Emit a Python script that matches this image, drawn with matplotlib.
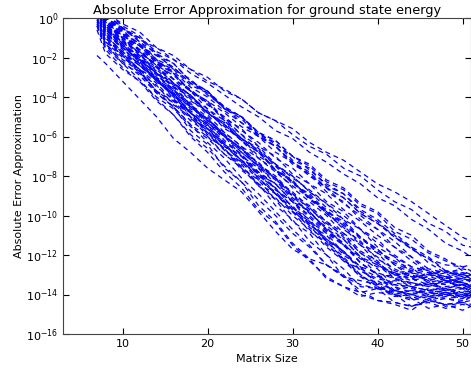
import numpy as np
import matplotlib
matplotlib.use('Agg')
import matplotlib.pyplot as plt
from matplotlib.ticker import NullLocator

# matrix sizes at which the error was sampled
matrix_size = [7, 8, 10, 12, 14, 16, 18, 20, 22, 24, 26, 28, 30, 32, 34, 36,
               38, 40, 42, 44, 46, 48, 50, 51]

# log10 of the absolute error, one list per run
run01 = [1.0, 0.0, -0.5, -1.1, -1.5, -2.1, -2.6, -3.2, -3.6, -4.1, -4.8, -5.2, -5.6, -6.3, -6.8, -7.2, -7.8, -8.4, -8.8, -9.3, -9.9, -10.5, -11.1, -11.3]
run02 = [1.4, 0.3, -0.3, -0.7, -1.5, -1.9, -2.6, -3.0, -3.7, -4.1, -4.8, -5.2, -5.9, -6.5, -6.9, -7.6, -8.0, -8.7, -9.3, -9.7, -10.4, -10.8, -11.5, -11.6]
run03 = [0.6, -0.5, -1.2, -1.7, -2.4, -2.9, -3.7, -4.2, -4.8, -5.5, -6.0, -6.8, -7.3, -7.9, -8.6, -9.1, -9.9, -10.4, -11.0, -11.7, -12.2, -12.8, -13.1, -13.3]
run04 = [1.1, 0.0, -0.6, -1.4, -1.9, -2.5, -3.3, -3.8, -4.5, -5.0, -5.8, -6.4, -7.0, -7.7, -8.4, -8.9, -9.7, -10.2, -10.9, -11.6, -12.1, -12.8, -13.1, -13.4]
run05 = [0.8, -0.4, -1.0, -1.8, -2.3, -3.1, -3.6, -4.4, -5.0, -5.7, -6.3, -7.1, -7.6, -8.4, -8.9, -9.7, -10.3, -11.0, -11.6, -12.3, -12.9, -13.3, -13.7, -13.5]
run06 = [0.3, -0.8, -1.5, -2.1, -2.8, -3.5, -4.0, -4.8, -5.4, -6.1, -6.7, -7.4, -8.1, -8.7, -9.4, -10.0, -10.7, -11.4, -12.0, -12.6, -12.8, -13.1, -12.9, -13.0]
run07 = [1.3, 0.2, -0.5, -1.2, -1.8, -2.6, -3.1, -3.9, -4.5, -5.3, -5.9, -6.5, -7.3, -8.0, -8.6, -9.4, -10.0, -10.7, -11.3, -12.1, -12.7, -13.3, -13.6, -13.9]
run08 = [0.5, -0.6, -1.4, -1.9, -2.8, -3.3, -4.2, -4.7, -5.6, -6.1, -7.0, -7.5, -8.4, -8.9, -9.8, -10.3, -11.2, -11.7, -12.5, -12.9, -13.4, -13.2, -13.4, -13.2]
run09 = [0.9, -0.1, -0.9, -1.4, -2.3, -2.8, -3.7, -4.2, -5.1, -5.6, -6.5, -7.0, -7.9, -8.4, -9.3, -9.8, -10.7, -11.2, -12.1, -12.6, -13.4, -13.7, -14.1, -13.9]
run10 = [0.2, -1.0, -1.8, -2.4, -3.1, -3.9, -4.7, -5.3, -6.0, -6.8, -7.5, -8.1, -8.9, -9.7, -10.3, -11.1, -11.9, -12.5, -13.2, -13.4, -13.6, -13.4, -13.5, -13.7]
run11 = [0.7, -0.4, -1.1, -1.9, -2.5, -3.3, -3.9, -4.8, -5.4, -6.2, -6.8, -7.7, -8.3, -9.1, -9.7, -10.5, -11.1, -11.9, -12.4, -12.8, -12.7, -12.9, -12.7, -12.8]
run12 = [1.2, 0.1, -0.7, -1.3, -2.2, -2.8, -3.7, -4.3, -5.1, -5.9, -6.5, -7.4, -8.0, -8.8, -9.6, -10.2, -11.1, -11.7, -12.5, -13.1, -13.8, -13.9, -14.0, -13.8]
run13 = [0.4, -0.7, -1.5, -2.1, -3.0, -3.6, -4.5, -5.1, -5.9, -6.7, -7.3, -8.2, -8.8, -9.6, -10.4, -11.0, -11.9, -12.4, -13.0, -13.3, -13.1, -13.3, -13.2, -13.0]
run14 = [0.1, -1.2, -2.0, -2.6, -3.5, -4.1, -5.0, -5.6, -6.4, -7.2, -7.8, -8.7, -9.3, -10.1, -10.9, -11.5, -12.4, -13.0, -13.8, -14.0, -14.3, -14.1, -14.2, -14.0]
run15 = [0.9, -0.2, -1.0, -1.6, -2.5, -3.3, -3.9, -4.8, -5.5, -6.2, -7.1, -7.7, -8.6, -9.3, -10.0, -10.9, -11.5, -12.4, -13.0, -13.5, -13.5, -13.7, -13.5, -13.6]
run16 = [0.2, -0.9, -1.7, -2.4, -3.2, -3.9, -4.8, -5.4, -6.3, -6.9, -7.8, -8.4, -9.3, -10.0, -10.8, -11.5, -12.2, -12.6, -12.9, -12.8, -13.0, -12.8, -12.9, -13.0]
run17 = [0.6, -0.5, -1.3, -2.1, -2.8, -3.7, -4.3, -5.3, -5.9, -6.8, -7.5, -8.4, -9.0, -9.9, -10.6, -11.5, -12.1, -13.0, -13.6, -13.9, -14.1, -13.9, -14.0, -14.2]
run18 = [1.5, 0.3, -0.5, -1.2, -2.1, -2.8, -3.7, -4.3, -5.2, -5.9, -6.8, -7.4, -8.3, -9.0, -9.9, -10.6, -11.5, -12.1, -12.9, -13.2, -13.5, -13.3, -13.4, -13.6]
run19 = [-0.3, -1.4, -2.2, -2.9, -3.8, -4.5, -5.4, -6.0, -6.9, -7.6, -8.5, -9.1, -10.0, -10.7, -11.6, -12.3, -13.1, -13.4, -13.8, -13.6, -13.8, -13.7, -13.5, -13.7]
run20 = [0.8, -0.3, -1.1, -1.8, -2.8, -3.4, -4.4, -5.0, -6.0, -6.6, -7.6, -8.2, -9.2, -9.8, -10.8, -11.4, -12.4, -13.0, -13.9, -14.1, -14.4, -14.2, -14.3, -14.1]
run21 = [0.0, -1.1, -1.9, -2.8, -3.4, -4.4, -5.0, -6.0, -6.6, -7.6, -8.2, -9.2, -9.8, -10.8, -11.4, -12.3, -12.7, -13.1, -13.0, -13.2, -12.9, -13.1, -13.2, -13.0]
run22 = [1.1, 0.0, -0.8, -1.7, -2.4, -3.3, -4.1, -4.9, -5.8, -6.5, -7.4, -8.1, -9.1, -9.8, -10.7, -11.4, -12.4, -13.0, -13.5, -13.7, -13.9, -13.8, -13.6, -13.8]
run23 = [0.5, -0.7, -1.5, -2.4, -3.1, -4.0, -4.8, -5.6, -6.5, -7.2, -8.1, -8.9, -9.7, -10.6, -11.3, -12.2, -13.1, -13.7, -14.4, -14.6, -14.3, -14.5, -14.4, -14.6]
run24 = [-0.4, -1.6, -2.5, -3.2, -4.2, -4.9, -5.9, -6.6, -7.5, -8.3, -9.2, -10.0, -10.9, -11.6, -12.5, -13.1, -13.3, -13.5, -13.3, -13.4, -13.6, -13.3, -13.4, -13.5]
run25 = [0.7, -0.5, -1.4, -2.1, -3.1, -3.8, -4.8, -5.5, -6.4, -7.2, -8.1, -8.9, -9.8, -10.5, -11.5, -12.2, -13.0, -13.6, -13.9, -13.8, -14.0, -13.9, -13.7, -13.9]
run26 = [1.0, -0.1, -1.0, -1.8, -2.7, -3.5, -4.4, -5.2, -6.2, -6.9, -7.9, -8.6, -9.6, -10.4, -11.3, -12.1, -13.0, -13.6, -14.1, -14.0, -14.2, -14.0, -14.1, -13.9]
run27 = [0.2, -1.0, -1.9, -2.7, -3.7, -4.5, -5.4, -6.3, -7.1, -8.1, -8.9, -9.8, -10.7, -11.5, -12.5, -13.1, -13.5, -13.7, -13.5, -13.6, -13.8, -13.6, -13.5, -13.7]
run28 = [0.8, -0.4, -1.3, -2.3, -3.0, -4.1, -4.8, -5.9, -6.6, -7.7, -8.4, -9.5, -10.2, -11.3, -12.0, -13.1, -13.8, -14.3, -14.4, -14.6, -14.3, -14.5, -14.4, -14.3]
run29 = [-0.1, -1.3, -2.3, -3.1, -4.1, -4.9, -6.0, -6.8, -7.8, -8.6, -9.7, -10.4, -11.5, -12.3, -13.1, -13.6, -13.9, -13.7, -13.8, -14.0, -13.7, -13.8, -13.9, -13.7]
run30 = [0.4, -0.8, -1.8, -2.6, -3.8, -4.5, -5.7, -6.4, -7.6, -8.3, -9.5, -10.3, -11.4, -12.2, -13.2, -13.6, -14.1, -13.9, -14.0, -14.2, -13.9, -14.0, -14.1, -13.9]
run31 = [-1.9, -2.3, -3.2, -4.1, -5.0, -6.1, -6.8, -7.6, -8.2, -8.8, -9.8, -10.8, -11.7, -12.2, -12.5, -13.0, -14.0, -14.3, -14.5, -14.8, -14.2, -14.6, -14.4, -14.5]
run32 = [0.8, -0.2, -0.9, -1.4, -2.2, -2.7, -3.5, -4.0, -4.7, -5.3, -6.0, -6.5, -7.3, -7.8, -8.6, -9.1, -9.9, -10.4, -11.1, -11.7, -12.2, -12.5, -12.6, -12.5]
run33 = [0.6, -0.6, -1.4, -2.0, -2.9, -3.6, -4.5, -5.1, -6.0, -6.6, -7.5, -8.1, -9.0, -9.6, -10.5, -11.2, -12.1, -12.7, -13.6, -14.2, -14.7, -14.5, -14.8, -14.6]
run34 = [-0.6, -1.8, -2.6, -3.2, -4.0, -4.6, -5.5, -6.1, -6.9, -7.5, -8.4, -8.9, -9.8, -10.4, -11.2, -11.8, -12.6, -12.9, -13.2, -13.0, -13.3, -13.1, -13.2, -13.3]
run35 = [1.6, 0.4, -0.4, -0.9, -1.8, -2.3, -3.2, -3.7, -4.6, -5.1, -6.0, -6.5, -7.4, -7.9, -8.8, -9.3, -10.2, -10.7, -11.6, -12.1, -12.9, -13.1, -13.5, -13.4]
run36 = [0.0, -1.2, -1.9, -2.6, -3.1, -3.9, -4.5, -5.2, -5.8, -6.5, -7.1, -7.8, -8.5, -9.1, -9.8, -10.4, -11.1, -11.8, -12.3, -12.7, -12.9, -12.8, -13.0, -12.8]
run37 = [0.9, -0.3, -1.0, -1.4, -2.2, -2.6, -3.4, -3.8, -4.6, -5.0, -5.8, -6.2, -7.0, -7.4, -8.2, -8.6, -9.4, -9.8, -10.6, -11.0, -11.8, -12.2, -12.8, -13.0]
run38 = [1.2, 0.1, -0.6, -1.0, -1.7, -2.1, -2.8, -3.3, -3.9, -4.5, -5.0, -5.7, -6.1, -6.8, -7.3, -7.9, -8.4, -9.1, -9.5, -10.2, -10.7, -11.4, -11.8, -12.1]
run39 = [0.5, -0.6, -1.2, -2.0, -2.6, -3.4, -3.9, -4.8, -5.3, -6.1, -6.6, -7.5, -8.0, -8.8, -9.4, -10.2, -10.7, -11.6, -12.1, -12.9, -13.3, -13.8, -13.7, -13.9]
run40 = [0.3, -0.9, -1.7, -2.3, -3.1, -3.7, -4.6, -5.1, -6.0, -6.6, -7.4, -8.0, -8.9, -9.5, -10.3, -10.9, -11.8, -12.3, -13.2, -13.6, -14.1, -14.0, -14.2, -14.0]
run41 = [0.9, -0.2, -1.0, -1.6, -2.5, -3.1, -4.0, -4.6, -5.4, -6.2, -6.8, -7.7, -8.3, -9.1, -9.9, -10.5, -11.4, -11.9, -12.8, -13.1, -13.2, -13.4, -13.2, -13.3]
run42 = [-0.2, -1.3, -2.1, -2.7, -3.7, -4.3, -5.2, -5.8, -6.7, -7.3, -8.2, -8.8, -9.7, -10.3, -11.3, -11.8, -12.8, -13.3, -13.8, -14.0, -13.8, -13.9, -14.1, -13.8]
run43 = [1.2, 0.0, -0.7, -1.6, -2.2, -3.1, -3.7, -4.6, -5.2, -6.1, -6.7, -7.7, -8.2, -9.2, -9.8, -10.7, -11.3, -12.2, -12.7, -13.1, -13.0, -13.2, -13.0, -13.1]
run44 = [0.4, -0.7, -1.6, -2.2, -3.2, -3.8, -4.8, -5.4, -6.4, -7.0, -8.0, -8.6, -9.6, -10.2, -11.2, -11.8, -12.8, -13.2, -13.4, -13.6, -13.4, -13.5, -13.3, -13.6]
run45 = [0.7, -0.4, -1.2, -2.1, -2.8, -3.8, -4.4, -5.4, -6.0, -7.0, -7.6, -8.7, -9.3, -10.3, -10.9, -11.9, -12.6, -13.5, -14.0, -14.3, -14.1, -14.2, -14.4, -14.1]
run46 = [-0.4, -1.5, -2.3, -2.8, -3.7, -4.2, -5.1, -5.6, -6.5, -7.0, -7.9, -8.4, -9.3, -9.8, -10.7, -11.2, -12.1, -12.5, -13.0, -12.9, -13.1, -12.9, -13.0, -13.2]
run47 = [1.3, 0.2, -0.5, -1.0, -1.9, -2.3, -3.2, -3.7, -4.5, -5.0, -5.9, -6.3, -7.2, -7.6, -8.5, -8.9, -9.8, -10.3, -11.1, -11.6, -12.4, -12.9, -13.5, -13.7]
run48 = [0.2, -1.0, -1.8, -2.6, -3.3, -4.2, -4.8, -5.8, -6.4, -7.3, -7.9, -8.9, -9.5, -10.5, -11.0, -12.0, -12.6, -13.6, -14.0, -14.6, -14.4, -14.7, -14.5, -14.6]
run49 = [0.6, -0.5, -1.4, -2.2, -3.2, -3.9, -5.0, -5.7, -6.7, -7.4, -8.5, -9.2, -10.3, -10.9, -12.0, -12.7, -13.6, -13.7, -14.0, -13.8, -13.9, -14.1, -13.8, -13.9]
run50 = [1.0, -0.1, -0.8, -1.3, -2.1, -2.5, -3.3, -3.7, -4.6, -5.0, -5.8, -6.2, -7.0, -7.5, -8.3, -8.7, -9.5, -9.9, -10.8, -11.2, -11.9, -12.3, -12.6, -12.8]

runs = [run01, run02, run03, run04, run05, run06, run07, run08, run09, run10,
        run11, run12, run13, run14, run15, run16, run17, run18, run19, run20,
        run21, run22, run23, run24, run25, run26, run27, run28, run29, run30,
        run31, run32, run33, run34, run35, run36, run37, run38, run39, run40,
        run41, run42, run43, run44, run45, run46, run47, run48, run49, run50]

y_ticks = [1e-16, 1e-14, 1e-12, 1e-10, 1e-8, 1e-6, 1e-4, 1e-2, 1e0]


def main():
    fig = plt.figure(figsize=(4.71, 3.71), dpi=100)
    ax = fig.add_axes([63/471, 1-334/371, 1-63/471, (334-18)/371])

    for r in runs:
        ax.semilogy(matrix_size, 10.0**np.array(r), color='b',
                    linestyle=(0, (4, 3.2)), linewidth=0.9)

    ax.set_xlim(3, 51)
    ax.set_ylim(1e-16, 1e0)
    ax.set_xticks([10, 20, 30, 40, 50])
    ax.set_yticks(y_ticks)
    ax.yaxis.set_minor_locator(NullLocator())
    ax.tick_params(direction='in', top=True, right=True, labelsize=8,
                   length=4, color='k')
    for s in ax.spines.values():
        s.set_color('#444444')

    ax.set_title('Absolute Error Approximation for ground state energy', fontsize=9.3, pad=3)
    ax.set_xlabel('Matrix Size', fontsize=8, labelpad=4)
    ax.set_ylabel('Absolute Error Approximation', fontsize=8, labelpad=1)

    fig.savefig('out.png', dpi=100)


if __name__ == '__main__':
    main()
